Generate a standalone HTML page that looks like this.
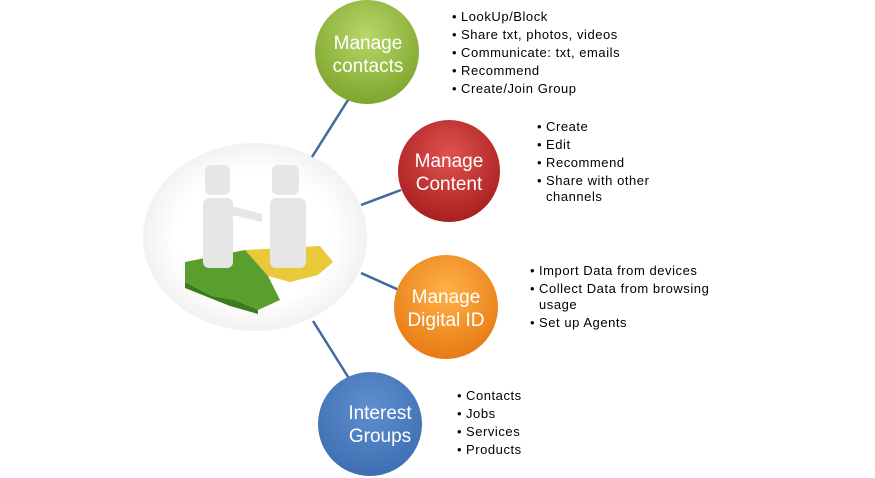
<!DOCTYPE html>
<html><head><style>
body{margin:0;width:875px;height:478px;background:#fff;overflow:hidden;font-family:"Liberation Sans",sans-serif}
svg{position:absolute;left:0;top:0}
.l{position:absolute;font-size:13px;letter-spacing:0.55px;line-height:18px;color:#000;margin:0;padding:0;list-style:none;white-space:nowrap}
.l li:before{content:"•";display:inline-block;width:9px;letter-spacing:0}
.l li.c:before{content:"";}
</style></head><body>
<svg width="875" height="478">
<defs>
<radialGradient id="g" cx="50%" cy="35%" r="65%"><stop offset="0" stop-color="#b7d86a"/><stop offset="1" stop-color="#7ea52c"/></radialGradient>
<radialGradient id="r" cx="50%" cy="35%" r="65%"><stop offset="0" stop-color="#e0524e"/><stop offset="1" stop-color="#a8201f"/></radialGradient>
<radialGradient id="o" cx="50%" cy="35%" r="65%"><stop offset="0" stop-color="#ffb248"/><stop offset="1" stop-color="#e87a14"/></radialGradient>
<radialGradient id="b" cx="50%" cy="35%" r="65%"><stop offset="0" stop-color="#5f8fcf"/><stop offset="1" stop-color="#3e6fb2"/></radialGradient>
<radialGradient id="w" cx="50%" cy="50%" r="50%"><stop offset="0.7" stop-color="#fff"/><stop offset="1" stop-color="#f2f2f2"/></radialGradient>
</defs>
<ellipse cx="255" cy="237" rx="112" ry="94" fill="url(#w)"/>
<g stroke="#41699e" stroke-width="2.5">
<line x1="312" y1="157" x2="348" y2="100"/>
<line x1="361" y1="205" x2="401" y2="190"/>
<line x1="361" y1="273" x2="399" y2="290"/>
<line x1="313" y1="321" x2="350" y2="380"/>
</g>
<path d="M245 250 L320 246 L333 262 L318 275 L290 282 L268 276 Z" fill="#e8c93a"/>
<path d="M185 262 L245 250 L268 276 L280 300 L258 310 L235 300 L212 296 L185 282 Z" fill="#5a9e2e"/>
<path d="M185 282 L212 296 L235 300 L258 310 L258 314 L230 306 L185 288Z" fill="#3c7a1f"/>
<g fill="#e6e6e6">
<rect x="205" y="165" width="25" height="30" rx="6"/>
<rect x="203" y="198" width="30" height="70" rx="6"/>
<rect x="272" y="165" width="27" height="30" rx="6"/>
<rect x="270" y="198" width="36" height="70" rx="6"/>
<path d="M228 205 L262 214 L262 222 L228 214Z"/>
</g>
<circle cx="367" cy="52" r="52" fill="url(#g)"/>
<circle cx="449" cy="171" r="51" fill="url(#r)"/>
<circle cx="446" cy="307" r="52" fill="url(#o)"/>
<circle cx="370" cy="424" r="52" fill="url(#b)"/>
<g fill="#fff" font-size="19" text-anchor="middle" font-family="Liberation Sans,sans-serif">
<text x="368" y="49">Manage</text><text x="368" y="72">contacts</text>
<text x="449" y="167">Manage</text><text x="449" y="190">Content</text>
<text x="446" y="303">Manage</text><text x="446" y="326">Digital ID</text>
<text x="380" y="419">Interest</text><text x="380" y="442">Groups</text>
</g>
</svg>
<ul class="l" style="left:452px;top:8px"><li>LookUp/Block</li><li>Share txt, photos, videos</li><li>Communicate: txt, emails</li><li>Recommend</li><li>Create/Join Group</li></ul>
<ul class="l" style="left:537px;top:118px"><li>Create</li><li>Edit</li><li>Recommend</li><li>Share with other</li><li class="c" style="margin-top:-2px">channels</li></ul>
<ul class="l" style="left:530px;top:262px"><li>Import Data from devices</li><li>Collect Data from browsing</li><li class="c" style="margin-top:-2px">usage</li><li>Set up Agents</li></ul>
<ul class="l" style="left:457px;top:387px"><li>Contacts</li><li>Jobs</li><li>Services</li><li>Products</li></ul>
</body></html>
